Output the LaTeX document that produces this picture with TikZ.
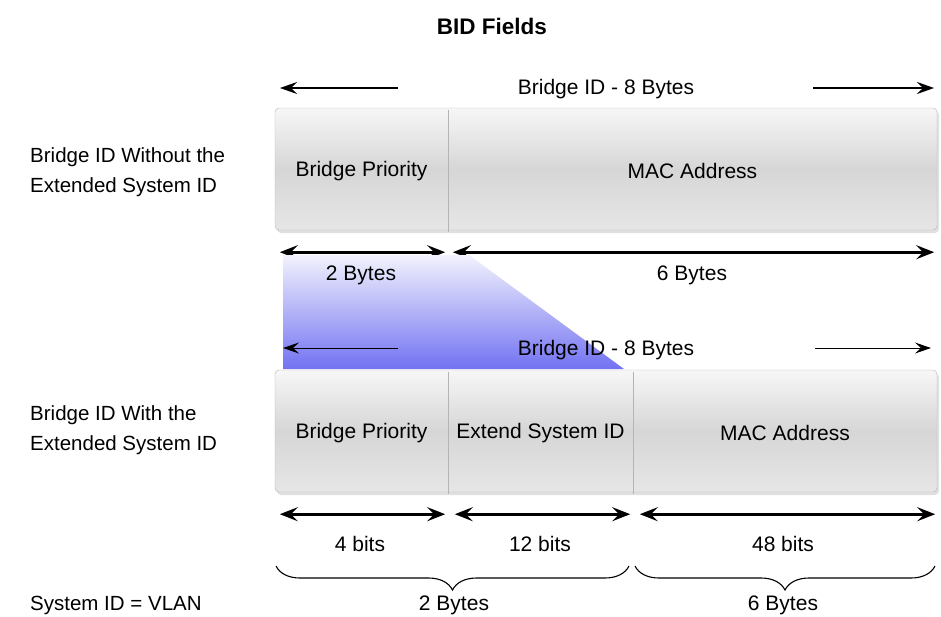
\documentclass[tikz,border=0pt]{standalone}
\usepackage{fontspec}
\setmainfont{Liberation Sans}
\usetikzlibrary{arrows.meta, decorations.pathreplacing}

\definecolor{boxtop}{HTML}{F7F7F7}
\definecolor{boxmid}{HTML}{D6D6D6}
\definecolor{boxbot}{HTML}{E6E6E6}
\definecolor{boxline}{HTML}{B4B4B4}
\definecolor{wedgetop}{HTML}{F2F2FD}
\definecolor{wedgebot}{HTML}{7272F2}

\tikzset{
  cell/.style = {inner sep = 0pt, font = \fontsize{21}{25}\selectfont},
  cellbox/.style = {draw = boxline, rounded corners = 4pt, top color = boxtop,
                    bottom color = boxbot, middle color = boxmid},
  dimthick/.style = {line width = 2.6pt, {Stealth[length = 18pt, width = 14pt, inset = 7pt]}-{Stealth[length = 18pt, width = 14pt, inset = 7pt]}},
  dimthin/.style = {line width = 1.6pt, -{Stealth[length = 17pt, width = 12pt, inset = 6pt]}},
  dimhair/.style = {line width = 1pt, -{Stealth[length = 16pt, width = 11pt, inset = 6pt]}},
  lbl/.style = {inner sep = 0pt, font = \fontsize{21}{25}\selectfont},
  bracedown/.style = {decorate, decoration = {brace, mirror, amplitude = 24pt}, line width = 1.1pt}
}

\begin{document}
\begin{tikzpicture}[x = 1pt, y = -1pt]

\useasboundingbox (0, 0) rectangle (941, 616);

\node[lbl, font = \fontsize{22.5}{26}\selectfont\bfseries] (title) at (492, 26) {BID Fields};

\node[lbl, anchor = west, align = left, font = \fontsize{20.5}{30}\selectfont] (without) at (30, 172)
  {Bridge ID Without the\\Extended System ID};
\node[lbl, anchor = west, align = left, font = \fontsize{20.5}{30}\selectfont] (with) at (30, 430)
  {Bridge ID With the\\Extended System ID};
\node[lbl, anchor = west, font = \fontsize{20.5}{25}\selectfont] (vlan) at (30, 605) {System ID = VLAN};

% top field without the extended system id
\fill[black, opacity = 0.12, rounded corners = 4pt] (277, 111) rectangle (939, 233);
\shade[cellbox] (275, 108) rectangle (937, 230);
\node[cell, minimum width = 173pt, minimum height = 122pt] (bp1) at (361.5, 171) {Bridge Priority};
\node[cell, minimum width = 489pt, minimum height = 122pt] (mac1) at (692.5, 171) {MAC Address};
\draw[boxline] (bp1.north east) -- (bp1.south east);

\node[lbl] (bid1) at (606, 89) {Bridge ID - 8 Bytes};
\coordinate (bid1l) at (280, 88);
\coordinate (bid1r) at (934, 88);
\draw[dimthin] (bid1l -| 398, 0) -- (bid1l);
\draw[dimthin] (bid1r -| 813, 0) -- (bid1r);

\draw[dimthick] ([xshift = 5pt, yshift = -20pt] bp1.south west) -- ([xshift = -3pt, yshift = -20pt] bp1.south east);
\draw[dimthick] ([xshift = 5pt, yshift = -20pt] mac1.south west) -- ([xshift = -3pt, yshift = -20pt] mac1.south east);

% wedge from the priority field down to the new layout
\shade[top color = wedgetop, bottom color = wedgebot] (283, 255) -- (469, 255) -- (624, 369) -- (283, 369) -- cycle;

\node[lbl] (two1) at (361, 275) {2 Bytes};
\node[lbl] (six1) at (692, 275) {6 Bytes};

\node[lbl] (bid2) at (606, 350) {Bridge ID - 8 Bytes};
\coordinate (bid2l) at (283, 348);
\coordinate (bid2r) at (931, 348);
\draw[dimhair] (bid2l -| 398, 0) -- (bid2l);
\draw[dimhair] (bid2r -| 815, 0) -- (bid2r);

% bottom field with the extended system id
\fill[black, opacity = 0.12, rounded corners = 4pt] (277, 373) rectangle (939, 495);
\shade[cellbox] (275, 370) rectangle (937, 492);
\node[cell, minimum width = 173pt, minimum height = 122pt] (bp2) at (361.5, 433) {Bridge Priority};
\node[cell, minimum width = 185pt, minimum height = 122pt] (ext) at (540.5, 433) {Extend System ID};
\node[cell, minimum width = 304pt, minimum height = 122pt] (mac2) at (785, 433) {MAC Address};
\draw[boxline] (bp2.north east) -- (bp2.south east);
\draw[boxline] (ext.north east) -- (ext.south east);

\draw[dimthick] ([xshift = 5pt, yshift = -20pt] bp2.south west) -- ([xshift = -3pt, yshift = -20pt] bp2.south east);
\draw[dimthick] ([xshift = 7pt, yshift = -20pt] ext.south west) -- ([xshift = -3pt, yshift = -20pt] ext.south east);
\draw[dimthick] ([xshift = 7pt, yshift = -20pt] mac2.south west) -- ([xshift = -2pt, yshift = -20pt] mac2.south east);

\node[lbl] (four) at (360, 544) {4 bits};
\node[lbl] (twelve) at (540, 544) {12 bits};
\node[lbl] (fortyeight) at (783, 544) {48 bits};

\coordinate (br1l) at (276, 566);
\coordinate (br1r) at (629, 566);
\coordinate (br2l) at (635, 566);
\coordinate (br2r) at (935, 566);
\draw[bracedown] (br1l) -- (br1r);
\draw[bracedown] (br2l) -- (br2r);

\node[lbl] (two2) at (454, 605) {2 Bytes};
\node[lbl] (six2) at (783, 605) {6 Bytes};

\end{tikzpicture}
\end{document}
